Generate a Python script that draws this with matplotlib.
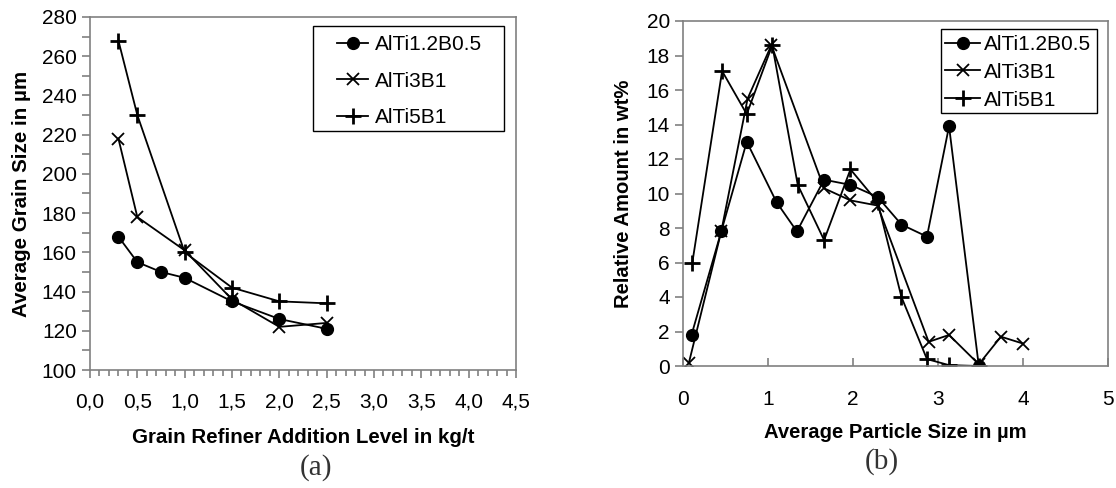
import matplotlib.pyplot as plt
from matplotlib.patches import Rectangle
from matplotlib.ticker import MultipleLocator, FuncFormatter

plt.rcParams['font.family'] = ['Liberation Sans', 'DejaVu Sans']

# (a) grain size vs addition level
a_x_12 = [0.3, 0.5, 0.75, 1.0, 1.5, 2.0, 2.5]
a_y_12 = [168, 155, 150, 147, 135, 126, 121]
a_x_3 = [0.3, 0.5, 1.0, 1.5, 2.0, 2.5]
a_y_3 = [218, 178, 161, 136, 122, 124]
a_x_5 = [0.3, 0.5, 1.0, 1.5, 2.0, 2.5]
a_y_5 = [268, 230, 160, 142, 135, 134]

# (b) particle size distribution
b_x_12 = [0.10, 0.45, 0.75, 1.10, 1.34, 1.66, 1.97, 2.29, 2.57, 2.87, 3.13, 3.48]
b_y_12 = [1.8, 7.8, 13.0, 9.5, 7.8, 10.8, 10.5, 9.8, 8.2, 7.5, 13.9, 0.0]
b_x_3 = [0.07, 0.45, 0.76, 1.04, 1.66, 1.97, 2.29, 2.89, 3.13, 3.48, 3.74, 4.0]
b_y_3 = [0.2, 7.8, 15.5, 18.6, 10.3, 9.6, 9.3, 1.4, 1.8, 0.1, 1.7, 1.3]
b_x_5 = [0.11, 0.46, 0.75, 1.05, 1.35, 1.66, 1.97, 2.29, 2.57, 2.87, 3.13, 3.48]
b_y_5 = [6.0, 17.1, 14.6, 18.6, 10.5, 7.3, 11.4, 9.5, 4.0, 0.4, 0.05, 0.0]

labels = ['AlTi1.2B0.5', 'AlTi3B1', 'AlTi5B1']
spine_col = '#808080'

fig = plt.figure(figsize=(11.16, 4.88), dpi=100)
W, H = 1116, 488


def fbox(x0, y0, x1, y1):
    # pixel box (top-left origin) -> figure fraction rect
    return [x0 / W, 1 - y1 / H, (x1 - x0) / W, (y1 - y0) / H]


ax1 = fig.add_axes(fbox(90, 17, 516, 370))
ax2 = fig.add_axes(fbox(683, 21, 1108, 366))

lw = 1.3
for ax, xs, ys in ((ax1, (a_x_12, a_x_3, a_x_5), (a_y_12, a_y_3, a_y_5)),
                   (ax2, (b_x_12, b_x_3, b_x_5), (b_y_12, b_y_3, b_y_5))):
    ax.plot(xs[0], ys[0], '-o', color='black', lw=lw, ms=8.5, label=labels[0])
    ax.plot(xs[1], ys[1], '-x', color='black', lw=lw, ms=9, mew=1.3, label=labels[1])
    ax.plot(xs[2], ys[2], '-+', color='black', lw=lw, ms=11, mew=2, label=labels[2])

ax1.set_xlim(0, 4.5)
ax1.set_ylim(100, 280)
ax1.xaxis.set_major_locator(MultipleLocator(0.5))
ax1.xaxis.set_minor_locator(MultipleLocator(0.1))
ax1.yaxis.set_major_locator(MultipleLocator(20))
ax1.yaxis.set_minor_locator(MultipleLocator(10))
ax1.xaxis.set_major_formatter(FuncFormatter(lambda v, p: f'{v:.1f}'.replace('.', ',')))
ax1.tick_params(axis='x', which='major', direction='out', length=6, pad=10, labelsize=15)
ax1.tick_params(axis='x', which='minor', direction='out', length=4)
ax1.tick_params(axis='y', which='both', direction='out', length=6, labelsize=15)
ax1.set_xlabel('Grain Refiner Addition Level in kg/t', fontsize=14.8, fontweight='bold', labelpad=12)
ax1.set_ylabel('Average Grain Size in µm', fontsize=14.8, fontweight='bold', labelpad=8)

ax2.set_xlim(0, 5)
ax2.set_ylim(0, 20)
ax2.xaxis.set_major_locator(MultipleLocator(1))
ax2.yaxis.set_major_locator(MultipleLocator(2))
ax2.tick_params(axis='x', direction='in', length=6, pad=17, labelsize=15)
ax2.tick_params(axis='y', direction='out', length=6, labelsize=15)
ax2.set_xlabel('Average Particle Size in µm', fontsize=14.6, fontweight='bold', labelpad=10)
ax2.set_ylabel('Relative Amount in wt%', fontsize=14.6, fontweight='bold', labelpad=10)

for ax in (ax1, ax2):
    for s in ax.spines.values():
        s.set_color(spine_col)
        s.set_linewidth(1.2)
    ax.tick_params(which='both', color=spine_col, width=1.2, labelcolor='black')

# legend frames drawn by hand so the padding matches
fig.patches.append(Rectangle((313 / W, 1 - 131 / H), (504 - 313) / W, (131 - 26) / H,
                             transform=fig.transFigure, facecolor='white',
                             edgecolor='black', lw=1.0, zorder=5))
fig.patches.append(Rectangle((941 / W, 1 - 113 / H), (1097 - 941) / W, (113 - 29) / H,
                             transform=fig.transFigure, facecolor='white',
                             edgecolor='black', lw=1.0, zorder=5))

h1, l1 = ax1.get_legend_handles_labels()
h2, l2 = ax2.get_legend_handles_labels()
leg1 = fig.legend(h1, l1, loc='upper left', bbox_to_anchor=(337 / W, 1 - 35 / H),
                  fontsize=15, frameon=False, handlelength=1.5, borderpad=0,
                  borderaxespad=0, labelspacing=0.85, handletextpad=0.33)
leg2 = fig.legend(h2, l2, loc='upper left', bbox_to_anchor=(945 / W, 1 - 35 / H),
                  fontsize=15, frameon=False, handlelength=1.7, borderpad=0,
                  borderaxespad=0, labelspacing=0.42, handletextpad=0.15)
leg1.set_zorder(6)
leg2.set_zorder(6)

fig.text(316 / W, 1 - 468 / H, '(a)', ha='center', va='center', fontsize=21,
         family=['Liberation Serif', 'DejaVu Serif'], color='#333333')
fig.text(882 / W, 1 - 462 / H, '(b)', ha='center', va='center', fontsize=21,
         family=['Liberation Serif', 'DejaVu Serif'], color='#333333')

fig.savefig('out.png', dpi=100)
